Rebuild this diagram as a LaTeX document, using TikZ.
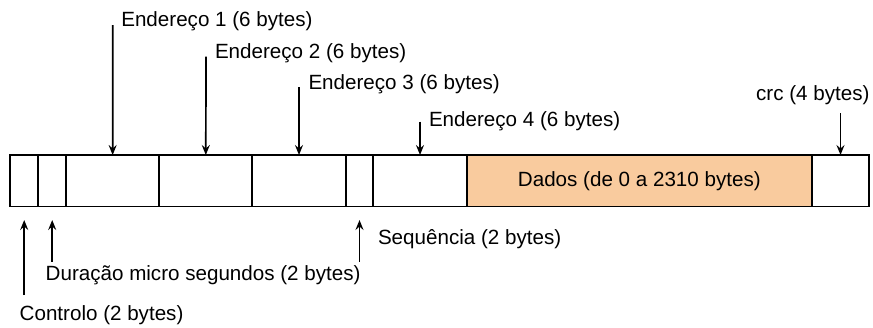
\documentclass[tikz,border=0pt]{standalone}
\usepackage{fontspec}
\setmainfont{Liberation Sans}
\usetikzlibrary{arrows.meta}
\definecolor{dadosfill}{RGB}{249,203,158}
\tikzset{
  fieldbox/.style={draw=black, line width=1.9pt, anchor=north west, inner sep=0pt, outer sep=0pt, minimum height=51.5pt},
  lbl/.style={inner sep=0pt, outer sep=0pt, font=\fontsize{20.6}{24}\selectfont},
  ptr/.style={line width=1.7pt, -{Stealth[length=10pt, width=8pt, inset=3.5pt]}}
}
\begin{document}
\begin{tikzpicture}[x=1pt, y=-1pt]
\useasboundingbox (0,0) rectangle (873,327);
% fields
\node[fieldbox, minimum width=28.3pt] (ctrl) at (10,155) {};
\node[fieldbox, minimum width=27.7pt] (dur) at (38.3,155) {};
\node[fieldbox, minimum width=93.3pt] (a1) at (66,155) {};
\node[fieldbox, minimum width=93pt] (a2) at (159.3,155) {};
\node[fieldbox, minimum width=93.4pt] (a3) at (252.3,155) {};
\node[fieldbox, minimum width=27.6pt] (seq) at (345.7,155) {};
\node[fieldbox, minimum width=93.4pt] (a4) at (373.3,155) {};
\node[fieldbox, fill=dadosfill, minimum width=345.3pt] (dados) at (466.7,155) {};
\node[fieldbox, minimum width=57pt] (crc) at (812,155) {};
\node[lbl] (dadostxt) at (dados.center) {Dados (de 0 a 2310 bytes)};
% top labels
\coordinate (p1) at (112.7,25);
\coordinate (p2) at (206,56.7);
\coordinate (p3) at (299,87.3);
\coordinate (p4) at (420,121.7);
\coordinate (p5) at (840.5,113.3);
\node[lbl, anchor=base west] (l1) at (121.3,26) {Endereço 1 (6 bytes)};
\node[lbl, anchor=base west] (l2) at (215,58) {Endereço 2 (6 bytes)};
\node[lbl, anchor=base west] (l3) at (308.5,89) {Endereço 3 (6 bytes)};
\node[lbl, anchor=base west] (l4) at (429,126) {Endereço 4 (6 bytes)};
\node[lbl, anchor=base east] (l5) at (869.5,100) {crc (4 bytes)};
\draw[ptr] (p1) -- (a1.north);
\draw[ptr] (p2) -- (a2.north);
\draw[ptr] (p3) -- (a3.north);
\draw[ptr] (p4) -- (a4.north);
\draw[ptr] (p5) -- (crc.north);
% bottom labels
\coordinate (q1) at (24.2,295);
\coordinate (q2) at (52.2,261.7);
\coordinate (q3) at (359.5,261.7);
\coordinate (t1) at (24.2,220);
\coordinate (t2) at (52.2,220);
\coordinate (t3) at (359.5,220);
\node[lbl, anchor=base west] (b1) at (19.7,320) {Controlo (2 bytes)};
\node[lbl, anchor=base west] (b2) at (45.7,280.5) {Duração micro segundos (2 bytes)};
\node[lbl, anchor=base west] (b3) at (378,244) {Sequência (2 bytes)};
\draw[ptr] (q1) -- (t1);
\draw[ptr] (q2) -- (t2);
\draw[ptr] (q3) -- (t3);
\end{tikzpicture}
\end{document}
